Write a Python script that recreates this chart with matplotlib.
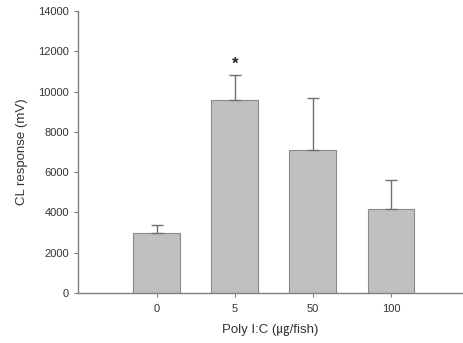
import matplotlib.pyplot as plt

# Values.
doses = ['0', '5', '50', '100']
means = [3000, 9600, 7100, 4180]
sem = [350, 1200, 2600, 1440]

plt.rcParams['font.family'] = ['Liberation Sans', 'Noto Sans CJK SC', 'DejaVu Sans']

fig = plt.figure(figsize=(4.63, 3.43), dpi=100)
ax = fig.add_axes([0.168, 0.146, 0.83, 0.822])

x = list(range(len(doses)))
ax.bar(x, means, width=0.6, color='#c0c0c0', edgecolor='#8a8a8a', linewidth=0.8,
       yerr=[[0] * len(sem), sem], capsize=4,
       error_kw=dict(ecolor='#707070', elinewidth=1, capthick=1))

# Significance marker above the 5 ug bar.
ax.text(1, 11350, '*', ha='center', va='center', fontsize=12, fontweight='bold',
        color='#222222')

ax.set_xlim(-1.01, 3.91)
ax.set_ylim(0, 14000)
ax.set_xticks(x)
ax.set_xticklabels(doses)
ax.set_yticks(range(0, 14001, 2000))

for side in ['top', 'right']:
    ax.spines[side].set_visible(False)
for side in ['left', 'bottom']:
    ax.spines[side].set_color('#808080')
    ax.spines[side].set_linewidth(1)

ax.tick_params(axis='both', labelsize=8, color='#808080', length=3, width=0.8,
               labelcolor='#333333')
ax.tick_params(axis='x', pad=5)

ax.set_ylabel('CL response (mV)', fontsize=9.5, color='#333333', labelpad=7)
ax.set_xlabel('Poly I:C (\u338d/fish)', fontsize=9.5, color='#333333', labelpad=7)

fig.savefig('out.png', dpi=100)
